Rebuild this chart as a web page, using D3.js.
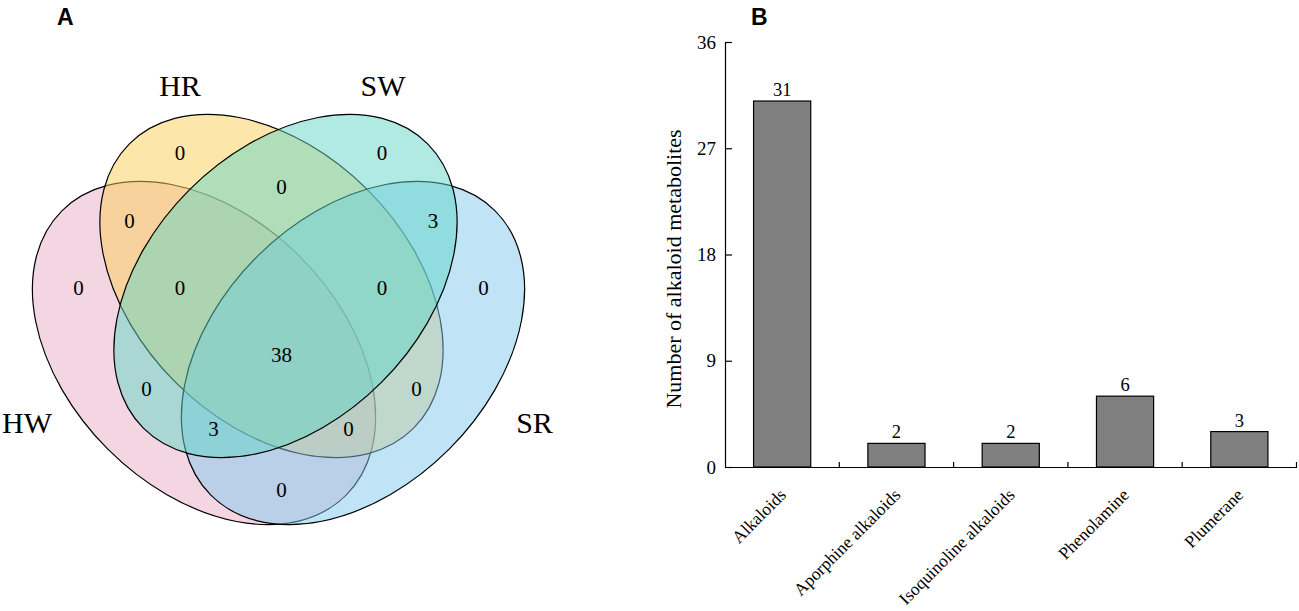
<!DOCTYPE html>
<html>
<head>
<meta charset="utf-8">
<script src="https://cdn.jsdelivr.net/npm/d3@7"></script>
<style>
body { margin: 0; background: #fff; }
svg text { font-family: "Liberation Serif", "Times New Roman", serif; fill: #000; }
</style>
</head>
<body>
<div class="container"></div>
<script>
const WIDTH = 1299;
const HEIGHT = 611;

// panel A: venn
var setNames = ["HW", "HR", "SR", "SW"];
var setColors = ["#E7ADC5", "#FBCD55", "#81C7ED", "#61D5C5"];
var regionKeys = ["HR", "SW", "HR&SW", "HW&HR", "SW&SR", "HW", "HW&HR&SW", "HR&SW&SR", "SR",
                  "HW&HR&SW&SR", "HW&SW", "HR&SR", "HW&SW&SR", "HW&HR&SR", "HW&SR"];
var regionCounts = [0, 0, 0, 0, 3, 0, 0, 0, 0, 38, 0, 0, 3, 0, 0];

// panel B: bars
var categories = ["Alkaloids", "Aporphine alkaloids", "Isoquinoline alkaloids", "Phenolamine", "Plumerane"];
var counts = [31, 2, 2, 6, 3];
var yTicks = [0, 9, 18, 27, 36];

// venn layout (venn units, 1 unit = 100px), same order as setNames
var ellipseLayout = [
    {cx: -0.745, cy: 0.67, rot: 45},
    {cx: -0.07,  cy: 0,    rot: 45},
    {cx: 0.745,  cy: 0.67, rot: -45},
    {cx: 0.07,   cy: 0,    rot: -45}
];
var setLabelPos = [[-2.515, 1.366], [-0.985, -2.003], [2.56, 1.366], [1.045, -2.003]];
var regionPos = [[-0.985, -1.33], [1.035, -1.33], [0.03, -0.99], [-1.49, -0.65], [1.545, -0.65],
                 [-2.0, 0.02], [-0.985, 0.02], [1.035, 0.02], [2.05, 0.02],
                 [0.03, 0.685], [-1.32, 1.024], [1.38, 1.024], [-0.65, 1.425], [0.70, 1.425], [0.03, 2.04]];
var ELL_A = 2.01, ELL_B = 1.36;

var drawVenn = function(svg){
    var vx = d3.scaleLinear().domain([-1, 1]).range([178.5, 378.5]);
    var vy = d3.scaleLinear().domain([-1, 1]).range([186, 386]);
    var g = svg.append("g");

    g.selectAll("ellipse")
        .data(setNames)
        .enter()
        .append("ellipse")
        .attr("cx", 0).attr("cy", 0)
        .attr("rx", vx(ELL_A) - vx(0))
        .attr("ry", vy(ELL_B) - vy(0))
        .attr("transform", function(d, i){
            var e = ellipseLayout[i];
            return "translate(" + vx(e.cx) + "," + vy(e.cy) + ") rotate(" + e.rot + ")";
        })
        .style("fill", function(d, i){ return setColors[i]; })
        .style("fill-opacity", 0.5)
        .style("stroke", "#000")
        .style("stroke-width", 1.2);

    g.selectAll("text.setlab")
        .data(setNames)
        .enter()
        .append("text")
        .attr("class", "setlab")
        .attr("x", function(d, i){ return vx(setLabelPos[i][0]); })
        .attr("y", function(d, i){ return vy(setLabelPos[i][1]); })
        .attr("dy", "0.35em")
        .attr("text-anchor", "middle")
        .style("font-size", "30px")
        .text(function(d){ return d; });

    g.selectAll("text.count")
        .data(regionKeys)
        .enter()
        .append("text")
        .attr("class", "count")
        .attr("x", function(d, i){ return vx(regionPos[i][0]); })
        .attr("y", function(d, i){ return vy(regionPos[i][1]); })
        .attr("dy", "0.35em")
        .attr("text-anchor", "middle")
        .style("font-size", "21px")
        .text(function(d, i){ return regionCounts[i]; });
};

var drawBars = function(svg){
    var x = d3.scaleBand()
        .domain(categories)
        .range([725, 1296.5])
        .paddingInner(0.5)
        .paddingOuter(0.25);
    var y = d3.scaleLinear()
        .domain([0, 36])
        .range([467, 42]);

    var yAxis = svg.append("g")
        .attr("transform", "translate(725,0)")
        .call(d3.axisLeft(y).tickValues(yTicks).tickSizeInner(-7).tickSizeOuter(0).tickPadding(9));
    yAxis.selectAll("text").style("font-size", "19px").style("font-family", "Liberation Serif");
    yAxis.selectAll("path, line").style("stroke", "#000").style("stroke-width", 1.2);

    svg.selectAll("rect.bar")
        .data(categories)
        .enter()
        .append("rect")
        .attr("class", "bar")
        .attr("x", function(d){ return x(d); })
        .attr("width", x.bandwidth())
        .attr("y", function(d, i){ return y(counts[i]); })
        .attr("height", function(d, i){ return y(0) - y(counts[i]); })
        .style("fill", "#808080")
        .style("stroke", "#000")
        .style("stroke-width", 1.2);

    svg.selectAll("text.val")
        .data(categories)
        .enter()
        .append("text")
        .attr("class", "val")
        .attr("x", function(d){ return x(d) + x.bandwidth() / 2; })
        .attr("y", function(d, i){ return y(counts[i]) - 5; })
        .attr("text-anchor", "middle")
        .style("font-size", "18.5px")
        .text(function(d, i){ return counts[i]; });

    var xAxis = svg.append("g")
        .attr("transform", "translate(0," + y(0) + ")")
        .call(d3.axisBottom(x).tickSize(0).tickSizeOuter(0));
    xAxis.select("path").style("stroke", "#000").style("stroke-width", 1.2);
    xAxis.selectAll("text")
        .attr("y", 0).attr("dy", 0)
        .attr("text-anchor", "end")
        .attr("transform", "translate(5,29) rotate(-45)")
        .style("font-size", "17.5px")
        .style("font-family", "Liberation Serif");

    // boundary ticks pointing up
    xAxis.selectAll("line.bound")
        .data(categories)
        .enter()
        .append("line")
        .attr("class", "bound")
        .attr("x1", function(d){ return x(d) + x.bandwidth() + x.step() * 0.25; })
        .attr("x2", function(d){ return x(d) + x.bandwidth() + x.step() * 0.25; })
        .attr("y1", 0).attr("y2", -5)
        .style("stroke", "#000")
        .style("stroke-width", 1.2);

    svg.append("text")
        .attr("transform", "translate(673,269) rotate(-90)")
        .attr("dy", "0.35em")
        .attr("text-anchor", "middle")
        .style("font-size", "22px")
        .text("Number of alkaloid metabolites");
};

var load = function(){
    var svg = d3.select(".container")
        .append("svg")
        .attr("width", WIDTH)
        .attr("height", HEIGHT);

    svg.append("text").attr("x", 57).attr("y", 25)
        .style("font-family", "Liberation Sans, Arial, sans-serif")
        .style("font-weight", "bold").style("font-size", "23px").text("A");
    svg.append("text").attr("x", 751).attr("y", 25)
        .style("font-family", "Liberation Sans, Arial, sans-serif")
        .style("font-weight", "bold").style("font-size", "23px").text("B");

    drawVenn(svg);
    drawBars(svg);
};

window.onload = load;
</script>
</body>
</html>
